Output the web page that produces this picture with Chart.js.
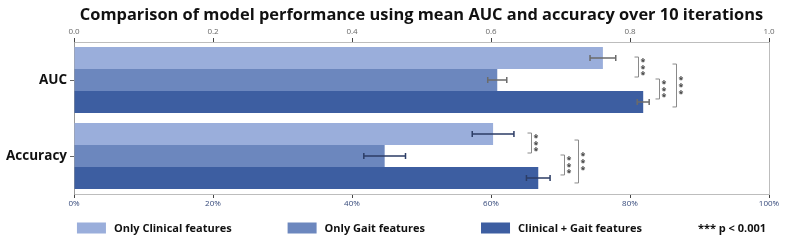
<!DOCTYPE html>
<html>
<head>
<meta charset="utf-8">
<script src="https://cdn.jsdelivr.net/npm/chart.js@4.4.1/dist/chart.umd.min.js"></script>
<style>
  html, body { margin: 0; padding: 0; background: #fff; }
  #wrap { width: 787px; height: 243px; }
</style>
</head>
<body>
<div id="wrap"><canvas id="myChart" width="787" height="243"></canvas></div>
<script>
// data
const categories = ["AUC", "Accuracy"];
const seriesNames = ["Only Clinical features", "Only Gait features", "Clinical + Gait features"];
const clinicalMean = [0.761, 0.603];
const gaitMean = [0.609, 0.447];
const combinedMean = [0.819, 0.668];
const clinicalErr = [0.0185, 0.030];
const gaitErr = [0.0137, 0.030];
const combinedErr = [0.0086, 0.017];
const topTicks = [0, 0.2, 0.4, 0.6, 0.8, 1.0];
const bottomTicks = ["0%", "20%", "40%", "60%", "80%", "100%"];

// significance brackets: which two series, and where (in x units) per category
const sigPairs = [[0, 1], [1, 2], [0, 2]];
const sigPosAUC = [0.811, 0.842, 0.866];
const sigPosAccuracy = [0.658, 0.705, 0.725];
const sigText = "***";
const sigNote = "*** p < 0.001";

const barColors = ["#9aaedb", "#6c87be", "#3d5ea1"];
const errColors = ["#6b6b6b", "#2c3d66"];
const FONT = "'Open Sans', 'DejaVu Sans', sans-serif";

const means = [clinicalMean, gaitMean, combinedMean];
const errs = [clinicalErr, gaitErr, combinedErr];
const sigPos = [sigPosAUC, sigPosAccuracy];

// error bars, significance brackets, frame, title and legend
const extras = {
  id: "extras",
  afterDatasetsDraw(chart) {
    const c = chart.ctx;
    const xs = chart.scales.x;
    c.save();
    // error bars
    for (let d = 0; d < means.length; d++) {
      const meta = chart.getDatasetMeta(d);
      meta.data.forEach((bar, i) => {
        const lo = xs.getPixelForValue(means[d][i] - errs[d][i]);
        const hi = xs.getPixelForValue(means[d][i] + errs[d][i]);
        c.strokeStyle = errColors[i];
        c.lineWidth = 1.5;
        c.beginPath();
        c.moveTo(lo, bar.y); c.lineTo(hi, bar.y);
        c.moveTo(lo, bar.y - 3); c.lineTo(lo, bar.y + 3);
        c.moveTo(hi, bar.y - 3); c.lineTo(hi, bar.y + 3);
        c.stroke();
      });
    }
    // brackets
    c.font = "bold 9px " + FONT;
    c.textAlign = "center";
    c.textBaseline = "middle";
    for (let i = 0; i < categories.length; i++) {
      sigPairs.forEach((p, k) => {
        const a = chart.getDatasetMeta(p[0]).data[i];
        const b = chart.getDatasetMeta(p[1]).data[i];
        const wide = (p[1] - p[0]) > 1;
        const y1 = a.y + (wide ? 6 : -1);
        const y2 = b.y + (wide ? 5 : -3);
        const x = Math.round(xs.getPixelForValue(sigPos[i][k])) + 0.5;
        c.strokeStyle = "#8a8a8a";
        c.lineWidth = 1;
        c.beginPath();
        c.moveTo(x - 4, y1); c.lineTo(x, y1); c.lineTo(x, y2); c.lineTo(x - 4, y2);
        c.stroke();
        c.fillStyle = "#444";
        const mid = (y1 + y2) / 2;
        for (let s = 0; s < sigText.length; s++) {
          c.fillText("*", x + 4.5, mid + (s - 1) * 6.7 + 2);
        }
      });
    }
    c.restore();
  },
  afterDraw(chart) {
    const c = chart.ctx;
    const area = chart.chartArea;
    const midX = (area.left + area.right) / 2;
    c.save();
    // right edge of frame
    c.strokeStyle = "#bdbdbd";
    c.lineWidth = 1;
    c.beginPath();
    c.moveTo(Math.round(area.right) + 0.5, area.top);
    c.lineTo(Math.round(area.right) + 0.5, area.bottom);
    c.stroke();
    // title
    c.fillStyle = "#111";
    c.font = "bold 16.4px " + FONT;
    c.textAlign = "center";
    c.textBaseline = "alphabetic";
    c.fillText("Comparison of model performance using mean AUC and accuracy over 10 iterations", midX, 20);
    // legend
    c.font = "bold 11px " + FONT;
    const boxW = 29, boxH = 11, textGap = 8, itemGap = 56;
    const items = seriesNames.map((n, k) => ({ text: n, color: barColors[k] }));
    items.push({ text: sigNote, color: null });
    const widths = items.map(it => (it.color ? boxW + textGap : 0) + c.measureText(it.text).width);
    const total = widths.reduce((s, w) => s + w, 0) + itemGap * (items.length - 1);
    let x = midX - total / 2;
    const y = 228;
    c.textAlign = "left";
    c.textBaseline = "middle";
    items.forEach((it, k) => {
      let tx = x;
      if (it.color) {
        c.fillStyle = it.color;
        c.fillRect(x, y - boxH / 2, boxW, boxH);
        tx = x + boxW + textGap;
      }
      c.fillStyle = "#111";
      c.fillText(it.text, tx, y + 0.5);
      x += widths[k] + itemGap;
    });
    c.restore();
  }
};

const ctx = document.getElementById("myChart").getContext("2d");
const myChart = new Chart(ctx, {
  type: "bar",
  data: {
    labels: categories,
    datasets: seriesNames.map((name, k) => ({
      label: name,
      data: means[k],
      backgroundColor: barColors[k],
      borderWidth: 0,
      categoryPercentage: 0.867,
      barPercentage: 1.0,
      xAxisID: "x",
    })),
  },
  options: {
    indexAxis: "y",
    responsive: false,
    animation: false,
    layout: { padding: { top: 24, right: 18, bottom: 31, left: 0 } },
    plugins: {
      legend: { display: false },
      title: { display: false },
      tooltip: { enabled: false },
    },
    scales: {
      x: {
        position: "bottom",
        min: 0,
        max: 1,
        afterBuildTicks: (s) => { s.ticks = topTicks.map(v => ({ value: v })); },
        afterFit: (s) => { s.height = 18; },
        grid: { drawOnChartArea: false, tickLength: 4, color: "#444", lineWidth: 1 },
        border: { color: "#bdbdbd" },
        ticks: {
          padding: 1,
          color: "#34487a",
          font: { family: FONT, size: 8 },
          maxRotation: 0,
          callback: (v, i) => bottomTicks[i],
        },
      },
      x2: {
        position: "top",
        min: 0,
        max: 1,
        afterBuildTicks: (s) => { s.ticks = topTicks.map(v => ({ value: v })); },
        afterFit: (s) => { s.height = 18; },
        grid: { drawOnChartArea: false, tickLength: 4, color: "#444", lineWidth: 1 },
        border: { color: "#bdbdbd" },
        ticks: {
          padding: 1,
          color: "#666",
          font: { family: FONT, size: 8 },
          maxRotation: 0,
          callback: (v) => Number(v).toFixed(1),
        },
      },
      y: {
        afterFit: (s) => { s.width = 74; },
        grid: { drawOnChartArea: false, offset: false, tickLength: 4, color: "#666", lineWidth: 1 },
        border: { color: "#9a9a9a" },
        ticks: {
          padding: 3,
          color: "#111",
          font: { family: FONT, size: 13.5, weight: "bold" },
        },
      },
    },
  },
  plugins: [extras],
});
</script>
</body>
</html>
